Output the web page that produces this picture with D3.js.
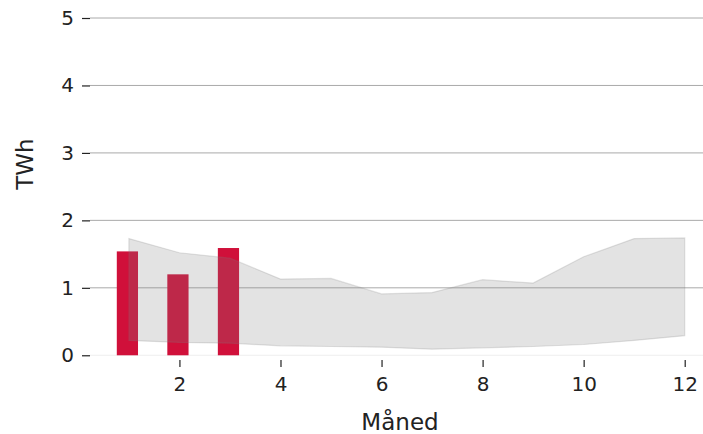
<!DOCTYPE html>
<html>
<head>
<meta charset="utf-8">
<script src="https://cdn.jsdelivr.net/npm/d3@7"></script>
<style>
    body { margin: 0; background: #fff; }
    text { font-family: 'DejaVu Sans', sans-serif; fill: #222; }
</style>
</head>
<body>
<svg id="canvas"></svg>
<script>
let width = 703;
let height = 434;

// months shown as bars (this year so far)
const barMonths = [1, 2, 3];
const barValues = [1.54, 1.2, 1.59];

// historical min/max range per month
const bandMonths = [1, 2, 3, 4, 5, 6, 7, 8, 9, 10, 11, 12];
const bandHigh = [1.73, 1.52, 1.44, 1.13, 1.14, 0.91, 0.93, 1.12, 1.07, 1.46, 1.73, 1.74];
const bandLow = [0.22, 0.19, 0.18, 0.14, 0.13, 0.12, 0.09, 0.11, 0.13, 0.16, 0.22, 0.29];

const xTicks = [2, 4, 6, 8, 10, 12];
const yTicks = [0, 1, 2, 3, 4, 5];

let canvas = d3.select('#canvas').attr('width', width).attr('height', height);

let xScale = d3.scaleLinear().domain([0.23, 12.56]).range([90, 713]);
let yScale = d3.scaleLinear().domain([-0.07, 5]).range([360, 18]);

// grid
canvas
    .append('g')
    .selectAll('line')
    .data(yTicks)
    .enter()
    .append('line')
    .attr('x1', 90)
    .attr('x2', width)
    .attr('y1', (d) => yScale(d))
    .attr('y2', (d) => yScale(d))
    .attr('stroke', (d) => (d === 0 ? '#eeeeee' : '#aaaaaa'))
    .attr('stroke-width', 1);

// bars
let barWidth = xScale(1.42) - xScale(1);
canvas
    .append('g')
    .selectAll('rect')
    .data(barMonths)
    .enter()
    .append('rect')
    .attr('x', (d) => xScale(d) - barWidth / 2 - 1.5)
    .attr('width', barWidth)
    .attr('y', (d, i) => yScale(barValues[i]))
    .attr('height', (d, i) => yScale(0) - yScale(barValues[i]))
    .attr('fill', '#d0103a');

// min/max band
let area = d3
    .area()
    .x((d) => xScale(d))
    .y0((d, i) => yScale(bandLow[i]))
    .y1((d, i) => yScale(bandHigh[i]));

canvas
    .append('path')
    .datum(bandMonths)
    .attr('d', area)
    .attr('fill', '#808080')
    .attr('fill-opacity', 0.22)
    .attr('stroke', '#808080')
    .attr('stroke-opacity', 0.22)
    .attr('stroke-width', 1.2);

// axes without domain lines
let xAxis = d3.axisBottom(xScale).tickValues(xTicks).tickSize(7).tickPadding(10).tickFormat(d3.format('d'));
let yAxis = d3.axisLeft(yScale).tickValues(yTicks).tickSize(8).tickPadding(8).tickFormat(d3.format('d'));

let gx = canvas.append('g').attr('transform', 'translate(0, 360)').call(xAxis);
let gy = canvas.append('g').attr('transform', 'translate(90, 0)').call(yAxis);

[gx, gy].forEach((g) => {
    g.select('.domain').remove();
    g.selectAll('.tick line').attr('stroke', '#222').attr('stroke-width', 1.2);
    g.selectAll('.tick text').style('font-size', '20px').style('font-family', 'DejaVu Sans').attr('fill', '#222');
});

canvas
    .append('text')
    .attr('x', 400)
    .attr('y', 430)
    .attr('text-anchor', 'middle')
    .style('font-size', '23px')
    .text('Måned');

canvas
    .append('text')
    .attr('transform', 'translate(33, 164) rotate(-90)')
    .attr('text-anchor', 'middle')
    .style('font-size', '23px')
    .text('TWh');
</script>
</body>
</html>
